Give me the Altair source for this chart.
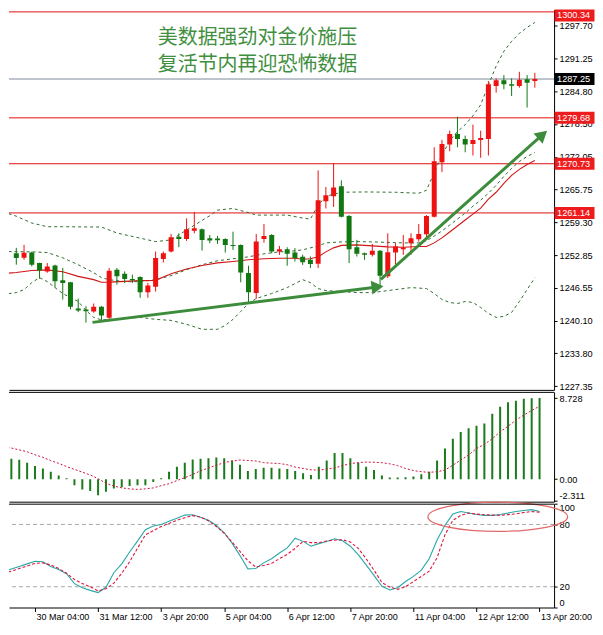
import json
import altair as alt
import pandas as pd

# ------------------------------------------------------------------ data
CANDLE_IDX = list(range(68))
OPEN = [1253.30, 1252.39, 1253.42, 1251.36, 1249.74, 1250.90, 1247.99, 1247.61, 1242.52, 1242.32,
        1241.93, 1242.84, 1240.71, 1250.07, 1249.29, 1248.27, 1248.65, 1245.67, 1246.77, 1252.14,
        1253.61, 1256.51, 1256.07, 1257.68, 1257.95, 1256.21, 1256.13, 1256.07, 1254.91, 1254.91,
        1249.43, 1245.55, 1256.07, 1256.84, 1253.61, 1254.08, 1253.42, 1252.60, 1252.00, 1251.23,
        1263.43, 1264.40, 1266.33, 1260.52, 1254.46, 1253.30, 1252.97, 1253.75, 1248.77, 1253.42,
        1254.08, 1255.24, 1256.01, 1256.98, 1260.39, 1271.04, 1274.47, 1276.54, 1275.57, 1274.60,
        1275.38, 1275.57, 1285.89, 1286.99, 1286.22, 1285.89, 1287.19, 1286.86]
HIGH = [1254.33, 1254.91, 1253.61, 1251.42, 1251.36, 1251.04, 1250.40, 1247.70, 1244.45, 1242.96,
        1243.48, 1242.96, 1250.40, 1250.40, 1249.74, 1249.10, 1248.77, 1247.49, 1253.61, 1253.61,
        1257.04, 1257.17, 1260.08, 1261.36, 1258.10, 1256.84, 1256.65, 1256.20, 1257.48, 1255.00,
        1250.84, 1257.04, 1258.97, 1257.00, 1254.71, 1254.46, 1254.27, 1253.00, 1252.64, 1269.43,
        1266.20, 1270.84, 1267.49, 1260.72, 1255.88, 1253.42, 1255.10, 1253.90, 1257.17, 1255.24,
        1256.84, 1257.17, 1258.97, 1260.72, 1273.94, 1275.38, 1277.18, 1279.89, 1276.21, 1278.34,
        1277.18, 1286.86, 1287.38, 1288.02, 1287.38, 1288.66, 1288.02, 1288.47]
LOW = [1251.04, 1252.00, 1250.71, 1248.32, 1249.48, 1246.58, 1244.26, 1242.32, 1241.80, 1239.74,
       1241.68, 1240.06, 1240.39, 1247.16, 1247.49, 1247.49, 1244.59, 1244.59, 1245.81, 1251.48,
       1253.42, 1254.46, 1255.68, 1257.17, 1253.80, 1255.24, 1255.10, 1253.42, 1253.94, 1247.61,
       1243.62, 1244.39, 1255.35, 1253.30, 1252.97, 1250.84, 1251.67, 1251.00, 1250.40, 1250.40,
       1262.01, 1262.32, 1260.27, 1251.36, 1252.64, 1252.00, 1252.64, 1246.83, 1248.46, 1251.04,
       1252.97, 1252.97, 1255.55, 1255.88, 1260.27, 1269.10, 1273.17, 1273.94, 1272.97, 1272.34,
       1271.89, 1272.34, 1284.59, 1285.25, 1283.95, 1285.56, 1281.69, 1285.56]
CLOSE = [1252.33, 1253.36, 1251.04, 1249.93, 1250.71, 1247.80, 1247.49, 1242.84, 1242.13, 1241.99,
         1242.84, 1241.16, 1249.87, 1248.77, 1248.27, 1247.99, 1245.67, 1246.97, 1252.33, 1253.30,
         1256.40, 1256.07, 1257.95, 1258.14, 1255.88, 1255.74, 1255.82, 1254.91, 1254.71, 1249.54,
         1245.67, 1255.55, 1256.65, 1253.61, 1254.08, 1253.17, 1252.33, 1251.50, 1251.17, 1263.62,
         1264.59, 1266.08, 1260.39, 1254.08, 1253.17, 1252.97, 1253.75, 1248.91, 1253.49, 1254.58,
         1254.39, 1256.21, 1257.04, 1260.52, 1271.23, 1274.60, 1276.54, 1275.57, 1274.47, 1275.38,
         1275.76, 1286.22, 1286.99, 1286.22, 1285.95, 1287.11, 1286.53, 1287.25]

BB_UP_IDX = [-1, 0, 2, 4, 6, 11, 13, 18, 20, 22, 25, 26, 28, 30, 31, 35, 37, 38, 39, 40,
             42, 45, 49, 52, 53, 54, 55, 56, 57, 58, 59, 60, 61, 62, 63, 64, 65, 66, 67]
BB_UP = [1261.0, 1260.5, 1259.17, 1258.45, 1258.45, 1258.39, 1257.23, 1255.55, 1255.88, 1257.81,
         1260.6, 1261.69, 1262.01, 1261.2, 1260.72, 1260.72, 1260.14, 1259.94, 1262.65, 1264.40,
         1265.17, 1265.23, 1265.17, 1264.98, 1265.56, 1269.04, 1272.34, 1275.24, 1276.98, 1278.34,
         1280.08, 1282.21, 1286.08, 1289.76, 1292.67, 1294.60, 1296.15, 1297.32, 1298.28]
BB_LO_IDX = [-1, 0, 1, 2, 3, 4, 5, 6, 7, 8, 9, 10, 11, 12, 14, 16, 18, 20, 22, 24,
             26, 27, 28, 29, 30, 31, 33, 35, 37, 38, 39, 40, 42, 44, 46, 49, 51, 53, 54, 55,
             56, 57, 58, 59, 60, 61, 62, 63, 64, 65, 66, 67]
BB_LO = [1245.4, 1245.61, 1246.19, 1247.55, 1248.52, 1247.74, 1246.58, 1245.42, 1244.64, 1243.87,
         1242.13, 1240.77, 1240.29, 1240.39, 1240.58, 1240.77, 1240.39, 1240.19, 1239.42, 1238.45,
         1238.45, 1239.22, 1240.39, 1241.93, 1243.48, 1244.45, 1245.42, 1246.58, 1248.13, 1247.55,
         1246.39, 1246.00, 1245.81, 1245.61, 1245.61, 1246.19, 1246.58, 1246.39, 1245.42, 1244.26,
         1243.68, 1243.48, 1243.87, 1243.68, 1242.71, 1241.55, 1240.77, 1240.97, 1241.74, 1243.87,
         1246.19, 1248.52]
MID_IDX = [-1, 0, 2, 4, 6, 8, 10, 11, 12, 14, 16, 18, 19, 20, 22, 24, 26, 28, 30, 32,
           34, 36, 37, 38, 39, 40, 41, 42, 44, 46, 48, 50, 52, 53, 54, 55, 56, 57, 58, 59,
           60, 61, 62, 63, 64, 65, 66, 67]
MID = [1249.4, 1249.54, 1249.93, 1250.03, 1249.68, 1248.77, 1248.13, 1247.61, 1247.65, 1247.80,
       1247.94, 1247.99, 1248.65, 1249.3, 1250.2, 1250.9, 1251.4, 1251.67, 1252.00, 1252.20,
       1252.29, 1252.3, 1252.1, 1252.2, 1252.58, 1253.55, 1254.33, 1254.81, 1254.91, 1254.71,
       1254.52, 1254.46, 1254.60, 1254.58, 1255.30, 1256.27, 1257.43, 1258.59, 1259.75, 1260.91,
       1262.07, 1263.82, 1265.17, 1266.91, 1268.46, 1269.63, 1270.59, 1271.37]
INNER_IDX = [-1, 2, 4, 6, 8, 10, 11, 12, 14, 16, 18, 20, 22, 24, 26, 28, 30, 32, 34, 36,
             37, 39, 40, 42, 44, 46, 48, 50, 52, 53, 54, 55, 56, 57, 58, 59, 60, 61, 62, 63,
             64, 65, 66, 67]
INNER = [1253.6, 1253.55, 1253.42, 1252.39, 1251.04, 1249.48, 1248.52, 1248.13, 1247.74, 1247.74,
         1248.13, 1248.91, 1250.07, 1251.04, 1251.81, 1252.20, 1252.58, 1253.17, 1253.55, 1253.75,
         1253.94, 1254.71, 1255.30, 1255.49, 1255.55, 1255.49, 1255.39, 1255.30, 1255.30, 1255.68,
         1256.65, 1257.62, 1258.78, 1259.94, 1261.11, 1262.46, 1263.62, 1264.98, 1266.53, 1268.27,
         1269.82, 1271.17, 1272.14, 1272.92]

MACD_HIST = [2.19, 2.08, 1.77, 1.42, 1.15, 0.80, 0.38, 0.10, -0.66, -1.11,
             -1.28, -1.74, -1.35, -1.00, -0.87, -0.73, -0.66, -0.66, -0.30, 0.10,
             0.80, 1.32, 1.77, 2.12, 2.19, 2.26, 2.33, 2.26, 2.01, 1.56,
             0.87, 1.08, 1.22, 1.22, 1.15, 1.08, 0.87, 0.63, 0.45, 1.32,
             2.01, 2.81, 2.81, 2.26, 1.77, 1.32, 0.97, 0.38, 0.17, 0.17,
             0.21, 0.28, 0.52, 0.80, 2.01, 3.30, 4.34, 5.07, 5.49, 5.76,
             6.00, 7.05, 7.80, 8.27, 8.44, 8.66, 8.70, 8.728]
LINE_IDX = list(range(-1, 68))
MACD_SIGNAL = [3.45, 3.35, 3.15, 2.95, 2.62, 2.35, 2.0, 1.7, 1.35, 1.05, 0.75,
               0.45, 0.05, -0.45, -0.75, -0.94, -1.05, -1.11, -1.05, -0.95, -0.7,
               -0.5, -0.15, 0.15, 0.5, 0.9, 1.2, 1.5, 1.78, 1.95, 2.06,
               2.01, 1.95, 1.78, 1.72, 1.68, 1.55, 1.3, 1.15, 1.0, 0.97,
               1.08, 1.2, 1.45, 1.67, 1.78, 1.84, 1.82, 1.77, 1.65, 1.45,
               1.15, 0.92, 0.8, 0.73, 0.8, 0.97, 1.5, 2.05, 2.6, 3.3,
               3.75, 4.35, 5.1, 5.7, 6.35, 6.9, 7.4, 7.85]
STOCH_K = [34.5, 37, 39.5, 42, 44.5, 44, 39.5, 36.5, 32.5, 23, 19,
           16.5, 14.4, 19.5, 33.5, 42, 53.5, 64, 75, 78.5, 80,
           83, 86, 89, 89.3, 87, 84, 79, 72, 62, 50,
           37.2, 37.5, 43, 47, 52.5, 57.4, 66.8, 63.7, 59, 61.5,
           63.5, 66.2, 64.3, 59, 51, 41, 31, 20.5, 16.9, 19,
           25, 30, 36, 47, 65, 79.3, 90, 92.4, 91, 89.5,
           88.7, 88.7, 89.5, 91, 92.5, 93.5, 94.3, 92.4]
STOCH_D = [33, 35, 37.5, 40, 42.5, 43, 41, 37.5, 33, 27, 23,
           20, 16, 18, 23.5, 33, 44, 57, 70, 74, 78,
           81, 84, 86.5, 88.5, 87, 83.5, 78, 71.5, 63, 54,
           45, 39, 40.5, 42.5, 47, 51.2, 57, 63.7, 62.5, 62.5,
           64, 64.8, 65.3, 63, 57, 47, 36, 24, 19.5, 17.5,
           20, 25, 30, 35, 48, 70, 84, 88.7, 91, 90,
           89.3, 89, 88.7, 89.5, 90.2, 91.5, 92.4, 91.8]

LEVELS_RED = [1300.34, 1279.68, 1270.73, 1261.14]
LEVEL_CURRENT = [1287.25]
BOX_LEVELS = [1300.34, 1287.25, 1279.68, 1270.73, 1261.14]
BOX_KIND = ["level", "current", "level", "level", "level"]
PRICE_TICKS = [1297.70, 1291.25, 1284.80, 1278.50, 1272.05, 1265.75,
               1259.30, 1252.85, 1246.55, 1240.10, 1233.80, 1227.35]
MACD_TICKS = [8.728, 0.0, -2.311]
STOCH_TICKS = [100, 80, 20, 0]
STOCH_LEVELS = [80, 20]
TIME_IDX = [3, 11, 19, 27, 35, 43, 51, 59, 67]
TIME_LABELS = ["30 Mar 04:00", "31 Mar 12:00", "3 Apr 20:00", "5 Apr 04:00", "6 Apr 12:00",
               "7 Apr 20:00", "11 Apr 04:00", "12 Apr 12:00", "13 Apr 20:00"]
TITLE_1 = "美数据强劲对金价施压"
TITLE_2 = "复活节内再迎恐怖数据"
ARROW_FROM_IDX = [9.84, 47.1]
ARROW_FROM_P = [1239.80, 1248.20]
ARROW_TO_IDX = [46.67, 68.0]
ARROW_TO_P = [1246.71, 1276.40]
ELLIPSE_IDX = [61.7]
ELLIPSE_VAL = [87.4]

# ------------------------------------------------------------------ style
W = 546
H_MAIN, H_MACD, H_STO = 381, 110, 104
FONT = "Liberation Sans"
C_UP, C_DOWN = "#ee1111", "#117711"
C_LEVEL, C_CUR = "#e01010", "#7d8a99"
C_BAND, C_MID = "#2f6d2f", "#d01515"
C_ARROW, C_TITLE = "#3c8c3c", "#3f8f3f"
C_MACD, C_SIG = "#1b7a1b", "#cc1540"
C_K, C_D, C_ELL = "#2aa7a7", "#e0143c", "#e06a6a"
BOX_PATH = "M-1,-0.3L1,-0.3L1,0.3L-1,0.3Z"
ELLIPSE_PATH = "M-1,0A1,0.209 0 1,0 1,0A1,0.209 0 1,0 -1,0Z"

xs = alt.Scale(domain=[-0.3, 68.84], nice=False, zero=False)
ps = alt.Scale(domain=[1226.64, 1300.80], nice=False, zero=False)
ms = alt.Scale(domain=[-2.43, 9.40], nice=False, zero=False)
ss = alt.Scale(domain=[0, 100], nice=False, zero=False)

x_plain = alt.Axis(labels=False, ticks=False, domain=True, domainColor="black",
                   grid=False, title=None)
y_common = dict(orient="right", grid=False, tickSize=3, tickColor="black",
                domainColor="black", labelFont=FONT, labelFontSize=9.2,
                labelColor="black", labelPadding=2, title=None, labelOverlap=False)
y_main = alt.Axis(values=PRICE_TICKS, format=".2f", **y_common)
y_macd = alt.Axis(values=MACD_TICKS, labelFlush=3,
                  labelExpr="datum.value == 0 ? '0.00' : toString(datum.value)", **y_common)
y_sto = alt.Axis(values=STOCH_TICKS, labelFlush=True, **y_common)
x_sto = alt.Axis(values=TIME_IDX,
                 labelExpr=f"{json.dumps(TIME_LABELS)}[indexof({json.dumps(TIME_IDX)}, datum.value)]",
                 labelAlign="left", labelBaseline="top", labelFont=FONT, labelFontSize=9,
                 labelColor="black", labelPadding=1, labelOffset=1, tickSize=4, tickColor="black",
                 domainColor="black", grid=False, title=None, labelFlush=False,
                 labelOverlap=False)


def X(field, axis):
    return alt.X(f"{field}:Q", scale=xs, axis=axis)


def line(idx, vals, yscale, yaxis, xaxis, color, dash=None, width=1.0):
    df = pd.DataFrame({"i": idx, "v": vals})
    kw = dict(color=color, strokeWidth=width, clip=True)
    if dash:
        kw["strokeDash"] = dash
    return alt.Chart(df).mark_line(**kw).encode(
        x=X("i", xaxis), y=alt.Y("v:Q", scale=yscale, axis=yaxis))


# ------------------------------------------------------------------ main panel
cdf = pd.DataFrame({"i": CANDLE_IDX, "o": OPEN, "h": HIGH, "l": LOW, "c": CLOSE})
dir_color = alt.condition("datum.c >= datum.o", alt.value(C_UP), alt.value(C_DOWN))

levels = alt.Chart(pd.DataFrame({"v": LEVELS_RED})).mark_rule(
    color=C_LEVEL, strokeWidth=1).encode(y=alt.Y("v:Q", scale=ps, axis=y_main))
current = alt.Chart(pd.DataFrame({"v": LEVEL_CURRENT})).mark_rule(
    color=C_CUR, strokeWidth=1).encode(y=alt.Y("v:Q", scale=ps, axis=y_main))

band_up = line(BB_UP_IDX, BB_UP, ps, y_main, x_plain, C_BAND, [3, 3])
band_lo = line(BB_LO_IDX, BB_LO, ps, y_main, x_plain, C_BAND, [3, 3])
band_in = line(INNER_IDX, INNER, ps, y_main, x_plain, C_BAND, [3, 3])
mid = line(MID_IDX, MID, ps, y_main, x_plain, C_MID, None, 1.1)

wicks = alt.Chart(cdf).mark_rule(strokeWidth=1, clip=True).encode(
    x=X("i", x_plain), y=alt.Y("l:Q", scale=ps, axis=y_main), y2="h:Q", color=dir_color)
bodies = alt.Chart(cdf).mark_bar(size=5, clip=True).encode(
    x=X("i", x_plain), y=alt.Y("o:Q", scale=ps, axis=y_main), y2="c:Q", color=dir_color)

adf = pd.DataFrame({"i": ARROW_FROM_IDX, "p": ARROW_FROM_P,
                    "i2": ARROW_TO_IDX, "p2": ARROW_TO_P})
shafts = alt.Chart(adf).mark_rule(strokeWidth=3, color=C_ARROW, clip=False).encode(
    x=X("i", x_plain), y=alt.Y("p:Q", scale=ps, axis=y_main), x2="i2:Q", y2="p2:Q")


def head(n, ang):
    df = pd.DataFrame({"i": [ARROW_TO_IDX[n]], "p": [ARROW_TO_P[n]]})
    return alt.Chart(df).mark_point(shape="triangle-right", filled=True, size=190,
                                    color=C_ARROW, opacity=1, angle=ang, clip=False).encode(
        x=X("i", x_plain), y=alt.Y("p:Q", scale=ps, axis=y_main))


heads = [head(0, 353), head(1, 319)]


def title_line(txt, ypos):
    return alt.Chart(pd.DataFrame({"t": [txt]})).mark_text(
        align="left", baseline="middle", font="Noto Sans CJK SC", fontSize=20,
        color=C_TITLE).encode(x=alt.value(149), y=alt.value(ypos), text="t:N")


titles = [title_line(TITLE_1, 28.5), title_line(TITLE_2, 56)]

bdf = pd.DataFrame({"v": BOX_LEVELS, "k": BOX_KIND})
box_color = alt.Color("k:N", scale=alt.Scale(domain=["level", "current"],
                                             range=["#ee1c1c", "#000000"]), legend=None)


def boxes(flt, dy):
    b = alt.Chart(bdf).transform_filter(flt).mark_point(
        shape=BOX_PATH, size=1600, filled=True, opacity=1, strokeWidth=0,
        clip=False, yOffset=dy).encode(
        x=alt.value(W + 20.5), y=alt.Y("v:Q", scale=ps, axis=y_main), color=box_color)
    t = alt.Chart(bdf).transform_filter(flt).mark_text(
        align="left", baseline="middle", font=FONT, fontSize=9.2, color="white",
        clip=False, yOffset=dy).encode(
        x=alt.value(W + 3), y=alt.Y("v:Q", scale=ps, axis=y_main),
        text=alt.Text("v:Q", format=".2f"))
    return [b, t]


box_layers = boxes("datum.v < 1300", 0) + boxes("datum.v >= 1300", 3.6)

main = alt.layer(levels, current, band_up, band_lo, band_in, mid, wicks, bodies,
                 shafts, *heads, *titles, *box_layers).properties(width=W, height=H_MAIN)

# ------------------------------------------------------------------ MACD panel
mdf = pd.DataFrame({"i": CANDLE_IDX, "m": MACD_HIST})
bars = alt.Chart(mdf).mark_rule(strokeWidth=2, color=C_MACD, clip=True).encode(
    x=X("i", x_plain), y=alt.Y("m:Q", scale=ms, axis=y_macd), y2=alt.datum(0))
sig = line(LINE_IDX, MACD_SIGNAL, ms, y_macd, x_plain, C_SIG, [2, 2])
border_m = alt.Chart(pd.DataFrame({"z": [0]})).mark_rule(color="black", strokeWidth=1).encode(
    x=alt.value(0), x2=alt.value(W), y=alt.value(0.5))
macd = alt.layer(bars, sig, border_m).properties(width=W, height=H_MACD)

# ------------------------------------------------------------------ Stochastic panel
slev = alt.Chart(pd.DataFrame({"v": STOCH_LEVELS})).mark_rule(
    color="#a8a8a8", strokeDash=[4, 3], strokeWidth=1).encode(
    y=alt.Y("v:Q", scale=ss, axis=y_sto))
k_line = line(LINE_IDX, STOCH_K, ss, y_sto, x_sto, C_K, None, 1.1)
d_line = line(LINE_IDX, STOCH_D, ss, y_sto, x_sto, C_D, [3, 2], 1.1)
ellipse = alt.Chart(pd.DataFrame({"i": ELLIPSE_IDX, "v": ELLIPSE_VAL})).mark_point(
    shape=ELLIPSE_PATH, size=19600, filled=False, color=C_ELL, strokeWidth=1.3,
    opacity=1, clip=False).encode(x=X("i", x_sto), y=alt.Y("v:Q", scale=ss, axis=y_sto))
border_s = alt.Chart(pd.DataFrame({"z": [0]})).mark_rule(color="black", strokeWidth=1).encode(
    x=alt.value(0), x2=alt.value(W), y=alt.value(0.5))
sto = alt.layer(slev, k_line, d_line, ellipse, border_s).properties(width=W, height=H_STO)

chart = alt.vconcat(main, macd, sto, spacing=2, bounds="flush").properties(
    padding=0, background="white").configure_view(stroke=None)

chart.save("out.html", embed_options={"renderer": "svg", "actions": False})
